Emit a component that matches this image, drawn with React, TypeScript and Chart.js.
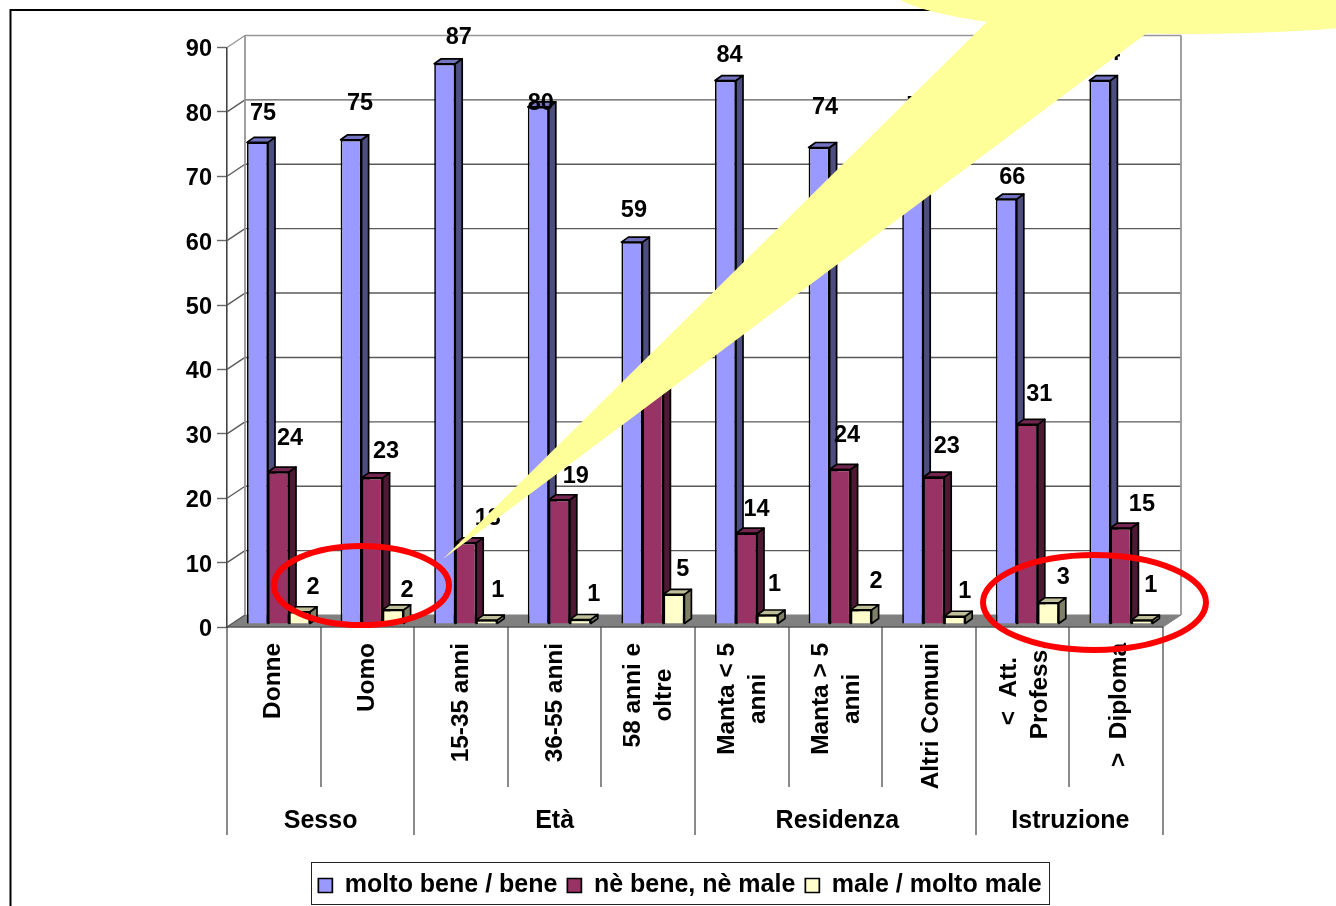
import React, { useEffect, useRef } from "react";
import { Chart, registerables } from "chart.js";

Chart.register(...registerables);

const categories = [
  ["Donne"], ["Uomo"], ["15-35 anni"], ["36-55 anni"], ["58 anni e", "oltre"],
  ["Manta < 5", "anni"], ["Manta > 5", "anni"], ["Altri Comuni"], ["<  Att.", "Profess."], [">  Diploma"],
];
const groups = ["Sesso", "Età", "Residenza", "Istruzione"];
const groupSizes = [2, 3, 3, 2];
const yTicksMax = 90;

const moltoBene = [74.8, 75.2, 87, 80.3, 59.3, 84.4, 74, 76, 66, 84.4];
const neBene = [23.6, 22.7, 12.6, 19.3, 36, 14.1, 24, 22.8, 31, 14.9];
const maleMale = [1.9, 2.2, 0.6, 0.7, 4.6, 1.4, 2.2, 1.2, 3.3, 0.6];

const seriesNames = ["molto bene / bene", "nè bene, nè male", "male / molto male"];

// Placement of the value labels relative to the top of their bar, as the picture scatters them.
const labelShiftX = [
  [5.5, 9, 14, 2.5, 2, 4, 6, 7, 6, 7],
  [11.5, 14, 22, 16.5, 3, 10, 7, 13, 12, 21],
  [13.5, 14, 11, 13.5, 9, 7, 15, 10, 15, 9],
];
const labelShiftY = [
  [-29, -36, -26, -3, -32, -25, -40, -28, -22, -27],
  [-34, -26, -24, -23, -24, -24, -34, -31, -30, -24],
  [-24, -19, -30, -25, -25, -30, -28, -25, -25, -35],
];
const groupLabelShift = [0, 0, 2, 1];

const FONT = '"Liberation Sans", Arial, sans-serif';
const FRONT = ["#9999FF", "#993366", "#FFFFCC"];
const SIDE = ["#4D4D80", "#4D1933", "#808066"];
const TOP = ["#7373BF", "#732650", "#BFBF99"];
const DEPTH_X = 7, DEPTH_Y = 5;
const WALL_X = 18, WALL_Y = 12;
const SHIFT_X = 4.7, SHIFT_Y = 3;
const CHART_LEFT = 227, CHART_RIGHT = 1163, CHART_TOP = 47.5, CHART_BOTTOM = 627;

function line(ctx: CanvasRenderingContext2D, x1: number, y1: number, x2: number, y2: number) {
  ctx.beginPath();
  ctx.moveTo(x1, y1);
  ctx.lineTo(x2, y2);
  ctx.stroke();
}

function poly(ctx: CanvasRenderingContext2D, pts: number[][], fill: string) {
  ctx.beginPath();
  pts.forEach((p, i) => (i ? ctx.lineTo(p[0], p[1]) : ctx.moveTo(p[0], p[1])));
  ctx.closePath();
  ctx.fillStyle = fill;
  ctx.fill();
  ctx.stroke();
}

const chart3d = {
  id: "chart3d",
  afterLayout(chart: any) {
    const lg = chart.legend;
    if (lg) {
      lg.left = 290;
      lg.right = 1070;
      lg.width = 780;
      lg.top = 863;
      lg.bottom = 905;
      lg.height = 42;
    }
  },
  afterDatasetsUpdate(chart: any) {
    // Datasets are painted back to front (molto bene first) but sit left to right: mirror each group.
    chart.data.datasets.forEach((_: any, i: number) => {
      chart.getDatasetMeta(i).data.forEach((el: any, j: number) => {
        const centre = chart.scales.x.getPixelForValue(j);
        el.x = 2 * centre - el.x + SHIFT_X;
        el.y -= SHIFT_Y;
        el.base -= SHIFT_Y;
      });
    });
  },
  beforeDatasetsDraw(chart: any) {
    const { ctx, chartArea: a, scales } = chart;
    const y = scales.y;
    ctx.save();
    // floor
    ctx.strokeStyle = "#808080";
    ctx.lineWidth = 1;
    poly(ctx, [[a.left, a.bottom], [a.left + WALL_X, a.bottom - WALL_Y], [a.right + WALL_X, a.bottom - WALL_Y], [a.right, a.bottom]], "#808080");
    // back wall grid
    y.ticks.forEach((t: any) => {
      const py = y.getPixelForValue(t.value);
      ctx.strokeStyle = t.value === yTicksMax ? "#969696" : "#5a5a5a";
      ctx.lineWidth = 1.4;
      if (t.value > 0) line(ctx, a.left + WALL_X, py - WALL_Y, a.right + WALL_X, py - WALL_Y);
      line(ctx, a.left, py, a.left + WALL_X, py - WALL_Y);
    });
    ctx.strokeStyle = "#969696";
    ctx.lineWidth = 1.8;
    line(ctx, a.left + WALL_X, a.top - WALL_Y, a.left + WALL_X, a.bottom - WALL_Y);
    line(ctx, a.right + WALL_X, a.top - WALL_Y, a.right + WALL_X, a.bottom - WALL_Y);
    ctx.strokeStyle = "#404040";
    ctx.lineWidth = 1;
    line(ctx, a.left, a.bottom, a.right, a.bottom);
    // value axis labels
    ctx.fillStyle = "#000";
    ctx.textAlign = "right";
    ctx.textBaseline = "middle";
    ctx.font = `bold 23.5px ${FONT}`;
    y.ticks.forEach((t: any) => ctx.fillText(t.label, a.left - 15, y.getPixelForValue(t.value) + 2.5));
    ctx.restore();
  },
  beforeDatasetDraw(chart: any, args: any) {
    const { ctx } = chart;
    const i = args.index;
    ctx.save();
    ctx.strokeStyle = "#000";
    ctx.lineWidth = 1.7;
    ctx.lineJoin = "round";
    args.meta.data.forEach((el: any) => {
      const l = el.x - el.width / 2, r = el.x + el.width / 2;
      poly(ctx, [[r, el.y], [r, el.base], [r + DEPTH_X, el.base - DEPTH_Y], [r + DEPTH_X, el.y - DEPTH_Y]], SIDE[i]);
      poly(ctx, [[l, el.y], [r, el.y], [r + DEPTH_X, el.y - DEPTH_Y], [l + DEPTH_X, el.y - DEPTH_Y]], TOP[i]);
    });
    ctx.restore();
  },
  afterDatasetsDraw(chart: any) {
    const { ctx, chartArea: a, scales } = chart;
    const x = scales.x;
    const step = (a.right - a.left) / categories.length;
    ctx.save();
    // value labels
    ctx.fillStyle = "#000";
    ctx.textAlign = "center";
    ctx.textBaseline = "middle";
    ctx.font = `bold 23.5px ${FONT}`;
    chart.data.datasets.forEach((ds: any, i: number) => {
      chart.getDatasetMeta(i).data.forEach((el: any, j: number) => {
        ctx.fillText(String(Math.round(ds.data[j])), el.x + labelShiftX[i][j], el.y + labelShiftY[i][j]);
      });
    });
    // category separators
    ctx.strokeStyle = "#3c3c3c";
    ctx.lineWidth = 1.2;
    let idx = 0;
    const bounds = new Set<number>([0]);
    groupSizes.forEach((n) => { idx += n; bounds.add(idx); });
    for (let k = 0; k <= categories.length; k++) {
      const px = Math.round(a.left + k * step);
      line(ctx, px, a.bottom, px, bounds.has(k) ? 835 : 787);
    }
    // category labels (rotated, centred per line)
    ctx.font = `bold 24.4px ${FONT}`;
    categories.forEach((lines, j) => {
      const cx = x.getPixelForValue(j) - 1 + 0.4 * j;
      const maxW = Math.max(...lines.map((s) => ctx.measureText(s).width));
      ctx.save();
      ctx.translate(cx, 643 + maxW / 2);
      ctx.rotate(-Math.PI / 2);
      lines.forEach((s, n) => ctx.fillText(s, 0, (n - (lines.length - 1) / 2) * 31));
      ctx.restore();
    });
    // group labels
    ctx.font = `bold 25px ${FONT}`;
    let start = 0;
    groups.forEach((g, n) => {
      const mid = a.left + (start + groupSizes[n] / 2) * step + groupLabelShift[n];
      ctx.fillText(g, mid, 821);
      start += groupSizes[n];
    });
    ctx.restore();
  },
  afterDraw(chart: any) {
    const { ctx } = chart;
    ctx.save();
    // slide frame
    ctx.strokeStyle = "#000";
    ctx.lineWidth = 2;
    ctx.beginPath();
    ctx.moveTo(10.5, 906);
    ctx.lineTo(10.5, 10);
    ctx.lineTo(1336, 10);
    ctx.stroke();
    // legend frame
    ctx.lineWidth = 1;
    ctx.strokeStyle = "#222";
    ctx.strokeRect(311.5, 862.5, 738, 42);
    // red ellipses
    ctx.strokeStyle = "#FF0000";
    ctx.lineWidth = 6;
    ctx.beginPath();
    ctx.ellipse(361.5, 585.5, 87.5, 39.5, 0, 0, Math.PI * 2);
    ctx.stroke();
    ctx.beginPath();
    ctx.ellipse(1094.5, 602.5, 111.5, 47.5, 0, 0, Math.PI * 2);
    ctx.stroke();
    // yellow callout
    ctx.fillStyle = "#FFFF99";
    ctx.beginPath();
    ctx.ellipse(1190, -12, 300, 46, 0, 0, Math.PI * 2);
    ctx.fill();
    ctx.beginPath();
    ctx.moveTo(443, 559);
    ctx.lineTo(1000, 9);
    ctx.lineTo(1160, 9);
    ctx.lineTo(1147, 33);
    ctx.closePath();
    ctx.fill();
    ctx.restore();
  },
};

export default function App() {
  const ref = useRef<HTMLCanvasElement>(null);
  useEffect(() => {
    document.body.style.margin = "0";
    const chart = new Chart(ref.current as HTMLCanvasElement, {
      type: "bar",
      data: {
        labels: categories,
        datasets: [moltoBene, neBene, maleMale].map((data, i) => ({
          label: seriesNames[i],
          data,
          order: 3 - i,
          backgroundColor: FRONT[i],
          borderColor: "#000",
          borderWidth: 1.7,
          categoryPercentage: 0.673,
          barPercentage: 1,
        })),
      },
      options: {
        responsive: false,
        animation: false,
        layout: { padding: { left: 0, right: 1336 - CHART_RIGHT, top: CHART_TOP, bottom: 2 } },
        plugins: {
          tooltip: { enabled: false },
          title: { display: false },
          legend: {
            display: true,
            position: "bottom",
            align: "center",
            labels: {
              color: "#000",
              font: { family: FONT, size: 25, weight: "bold" },
              boxWidth: 14,
              boxHeight: 14,
              padding: 10,
              sort: (a: any, b: any) => a.datasetIndex - b.datasetIndex,
            },
          },
        },
        scales: {
          x: {
            type: "category",
            ticks: { display: false },
            grid: { display: false },
            border: { display: false },
            afterFit: (s: any) => { s.height = 906 - CHART_BOTTOM - 2 - s.chart.legend.height; },
          },
          y: {
            min: 0,
            max: yTicksMax,
            ticks: { stepSize: 10, display: false },
            grid: { drawOnChartArea: false, tickLength: 10, tickColor: "#666", tickWidth: 1.4 },
            border: { color: "#444", width: 1.6 },
            afterFit: (s: any) => { s.width = CHART_LEFT; },
          },
        },
      },
      plugins: [chart3d],
    } as any);
    return () => chart.destroy();
  }, []);
  return <canvas ref={ref} width={1336} height={906} style={{ position: "fixed", left: 0, top: 0, display: "block" }} />;
}
